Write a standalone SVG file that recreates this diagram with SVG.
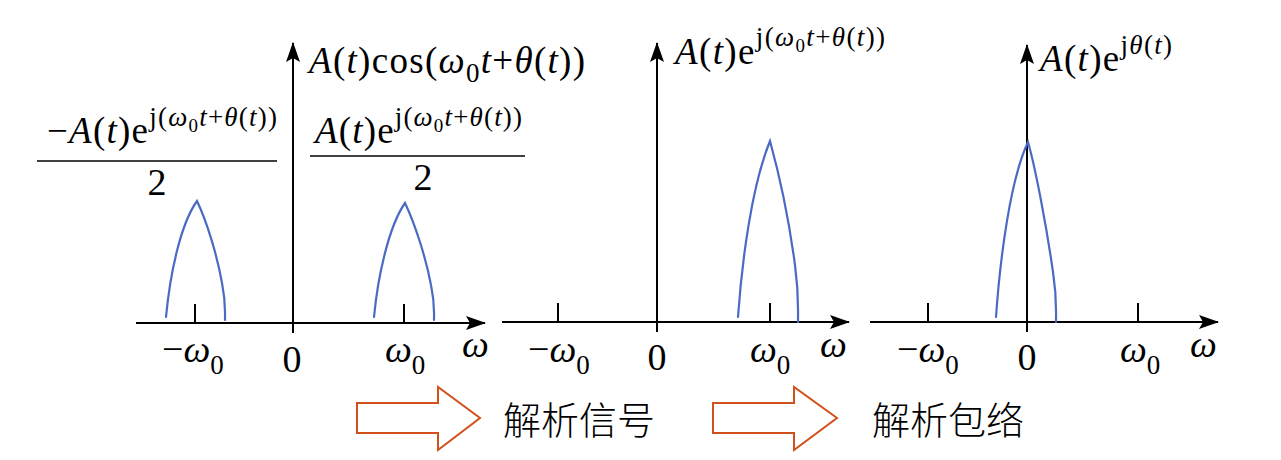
<svg xmlns="http://www.w3.org/2000/svg" width="1281" height="460" viewBox="0 0 1281 460">
<defs>
<marker id="ah" markerUnits="userSpaceOnUse" markerWidth="20" markerHeight="14" refX="19" refY="7" orient="auto">
<path d="M0,0 L20,7 L0,14 L4,7 z" fill="#000"/>
</marker>
<style>
.ax{stroke:#000;stroke-width:2;fill:none}
.tk{stroke:#000;stroke-width:2;fill:none}
.fl{stroke:#000;stroke-width:1.5}
.sp{stroke:#4a6ac4;stroke-width:2.2;fill:none;stroke-linecap:round}
.m{font-family:'Liberation Serif','Times New Roman',serif;font-size:37px;fill:#000}
.b{font-family:'Liberation Serif','Times New Roman',serif;font-size:38px;fill:#000}
.i{font-style:italic}
.sup{font-size:27px}
.ss{font-size:19px}
.sub{font-size:27px}
.cn{font-family:'Noto Sans CJK SC',sans-serif;font-size:38px;font-weight:300;fill:#000}
.ba{fill:#fff;stroke:#d2501a;stroke-width:2;stroke-linejoin:miter}
</style>
</defs>
<rect x="0" y="0" width="1281" height="460" fill="#fff"/>

<g id="panel1">
<line class="ax" x1="136" y1="323" x2="485" y2="323" marker-end="url(#ah)"/>
<line class="ax" x1="293" y1="333" x2="293" y2="43" marker-end="url(#ah)"/>
<path class="tk" d="M195,304V323M404,304V323"/>
<path class="sp" d="M166,317 C170,275 180,225 197,201 C207,222 217,255 222,283 C226,303 225,313 225,320"/>
<path class="sp" d="M374,317 C378,275 389,226 405,203 C415,224 426,258 431,285 C435,304 434,313 434,320"/>
<text class="m" x="309" y="73" textLength="276" lengthAdjust="spacing"><tspan class="i">A</tspan>(<tspan class="i">t</tspan>)cos(<tspan class="i">ω</tspan><tspan class="sub" dy="9">0</tspan><tspan class="i" dy="-9">t</tspan>+<tspan class="i">θ</tspan>(<tspan class="i">t</tspan>))</text>
<text class="m" x="47" y="143" textLength="230" lengthAdjust="spacing">−<tspan class="i">A</tspan>(<tspan class="i">t</tspan>)e<tspan class="sup" dy="-17">j(</tspan><tspan class="sup i">ω</tspan><tspan class="ss" dy="6">0</tspan><tspan class="sup i" dy="-6">t</tspan><tspan class="sup">+</tspan><tspan class="sup i">θ</tspan><tspan class="sup">(</tspan><tspan class="sup i">t</tspan><tspan class="sup">))</tspan></text>
<line class="fl" x1="37" y1="161" x2="277" y2="161"/>
<text class="b" x="157" y="195" text-anchor="middle">2</text>
<text class="m" x="315" y="143" textLength="207" lengthAdjust="spacing"><tspan class="i">A</tspan>(<tspan class="i">t</tspan>)e<tspan class="sup" dy="-17">j(</tspan><tspan class="sup i">ω</tspan><tspan class="ss" dy="6">0</tspan><tspan class="sup i" dy="-6">t</tspan><tspan class="sup">+</tspan><tspan class="sup i">θ</tspan><tspan class="sup">(</tspan><tspan class="sup i">t</tspan><tspan class="sup">))</tspan></text>
<line class="fl" x1="310" y1="156" x2="525" y2="156"/>
<text class="b" x="423" y="190" text-anchor="middle">2</text>
<text class="b" x="162" y="362">−<tspan class="i">ω</tspan><tspan class="sub" dy="12">0</tspan></text>
<text class="b" x="292" y="372" text-anchor="middle">0</text>
<text class="b" x="385" y="362"><tspan class="i">ω</tspan><tspan class="sub" dy="12">0</tspan></text>
<text class="b i" x="462" y="357">ω</text>
</g>

<g id="panel2">
<line class="ax" x1="502" y1="322" x2="849" y2="322" marker-end="url(#ah)"/>
<line class="ax" x1="657" y1="332" x2="657" y2="43" marker-end="url(#ah)"/>
<path class="tk" d="M558,303V322M770,303V322"/>
<path class="sp" d="M738,317 C742,260 752,185 770,141 C778,170 789,220 795,265 C799,295 798,310 798,322"/>
<text class="m" x="675" y="64" textLength="210" lengthAdjust="spacing"><tspan class="i">A</tspan>(<tspan class="i">t</tspan>)e<tspan class="sup" dy="-18">j(</tspan><tspan class="sup i">ω</tspan><tspan class="ss" dy="6">0</tspan><tspan class="sup i" dy="-6">t</tspan><tspan class="sup">+</tspan><tspan class="sup i">θ</tspan><tspan class="sup">(</tspan><tspan class="sup i">t</tspan><tspan class="sup">))</tspan></text>
<text class="b" x="528" y="362">−<tspan class="i">ω</tspan><tspan class="sub" dy="12">0</tspan></text>
<text class="b" x="657" y="370" text-anchor="middle">0</text>
<text class="b" x="750" y="362"><tspan class="i">ω</tspan><tspan class="sub" dy="12">0</tspan></text>
<text class="b i" x="820" y="357">ω</text>
</g>

<g id="panel3">
<line class="ax" x1="870" y1="322" x2="1218" y2="322" marker-end="url(#ah)"/>
<line class="ax" x1="1027" y1="332" x2="1027" y2="45" marker-end="url(#ah)"/>
<path class="tk" d="M928,303V322M1138,303V322"/>
<path class="sp" d="M996,317 C1000,260 1010,180 1028,142 C1036,170 1047,230 1053,272 C1057,298 1056,310 1056,322"/>
<text class="m" x="1040" y="71" textLength="132" lengthAdjust="spacing"><tspan class="i">A</tspan>(<tspan class="i">t</tspan>)e<tspan class="sup" dy="-17">j</tspan><tspan class="sup i">θ</tspan><tspan class="sup">(</tspan><tspan class="sup i">t</tspan><tspan class="sup">)</tspan></text>
<text class="b" x="897" y="362">−<tspan class="i">ω</tspan><tspan class="sub" dy="12">0</tspan></text>
<text class="b" x="1027" y="370" text-anchor="middle">0</text>
<text class="b" x="1120" y="362"><tspan class="i">ω</tspan><tspan class="sub" dy="12">0</tspan></text>
<text class="b i" x="1190" y="357">ω</text>
</g>

<g id="connectors">
<polygon class="ba" points="357,403 438,403 438,387 480,418 438,450 438,433 357,433"/>
<polygon class="ba" points="713,403 794,403 794,387 837,418 794,450 794,433 713,433"/>
</g>

<g id="step1">
<text class="cn" x="503" y="434">解析信号</text>
</g>
<g id="step2">
<text class="cn" x="872" y="434">解析包络</text>
</g>
</svg>
